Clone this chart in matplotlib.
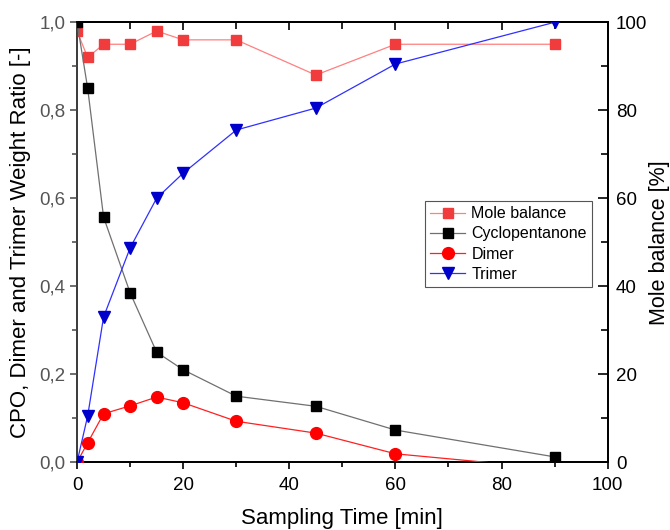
import numpy as np
import matplotlib
matplotlib.use('Agg')
import matplotlib.pyplot as plt
import matplotlib.ticker as ticker

plt.rcParams['font.family'] = ['Liberation Sans', 'DejaVu Sans']

# Sampling times [min]
time_min = [0, 2, 5, 10, 15, 20, 30, 45, 60, 90]

# Weight ratios [-]
cpo = [1.0, 0.85, 0.557, 0.385, 0.25, 0.21, 0.15, 0.127, 0.073, 0.012]
dimer = [0.0, 0.044, 0.11, 0.128, 0.148, 0.135, 0.093, 0.066, 0.019, -0.015]
trimer = [0.0, 0.105, 0.33, 0.487, 0.6, 0.657, 0.755, 0.805, 0.905, 1.0]

# Mole balance [%]
mole_balance = [98, 92, 95, 95, 98, 96, 96, 88, 95, 95]

fig = plt.figure(figsize=(6.7, 5.3), dpi=100)
ax1 = fig.add_axes([0.115, 0.128, 0.792, 0.830])
ax2 = ax1.twinx()

l_cpo, = ax1.plot(time_min, cpo, color='#707070', lw=0.9, marker='s', ms=7.5,
                  mfc='black', mec='black', label='Cyclopentanone', zorder=3)
l_dim, = ax1.plot(time_min, dimer, color='#ff2020', lw=0.9, marker='o', ms=8.5,
                  mfc='#ff0000', mec='#ff0000', label='Dimer', zorder=3)
l_tri, = ax1.plot(time_min, trimer, color='#3030ff', lw=0.9, marker='v', ms=8.5,
                  mfc='#0000cc', mec='#0000cc', label='Trimer', zorder=3)
l_mb, = ax2.plot(time_min, mole_balance, color='#ff8080', lw=0.9, marker='s', ms=7.5,
                 mfc='#f03c3c', mec='#f03c3c', label='Mole balance', zorder=3)

ax1.set_xlim(0, 100)
ax1.set_ylim(0, 1.0)
ax2.set_ylim(0, 100)

ax1.xaxis.set_major_locator(ticker.MultipleLocator(20))
ax1.xaxis.set_minor_locator(ticker.MultipleLocator(10))
ax1.yaxis.set_major_locator(ticker.MultipleLocator(0.2))
ax1.yaxis.set_minor_locator(ticker.MultipleLocator(0.1))
ax1.yaxis.set_major_formatter(ticker.FuncFormatter(lambda v, p: ('%.1f' % v).replace('.', ',')))
ax2.yaxis.set_major_locator(ticker.MultipleLocator(20))
ax2.yaxis.set_minor_locator(ticker.MultipleLocator(10))

ax1.tick_params(axis='x', which='both', direction='out', labelsize=13.5, width=1.2, pad=6)
ax1.tick_params(axis='x', which='major', length=5)
ax1.tick_params(axis='x', which='minor', length=3.5)
ax1.tick_params(axis='y', which='both', direction='out', labelsize=13.5, labelcolor='#555555',
                width=1.2, color='#555555')
ax1.tick_params(axis='y', which='major', length=5)
ax1.tick_params(axis='y', which='minor', length=3.5)
ax2.tick_params(axis='y', which='both', direction='in', labelsize=13.5, width=1.2, pad=6)
ax2.tick_params(axis='y', which='major', length=7)
ax2.tick_params(axis='y', which='minor', length=5)

# top axis ticks pointing inward, no labels
top = ax1.secondary_xaxis('top')
top.xaxis.set_major_locator(ticker.MultipleLocator(20))
top.xaxis.set_minor_locator(ticker.MultipleLocator(10))
top.tick_params(which='both', direction='in', labeltop=False, width=1.2)
top.tick_params(which='major', length=6)
top.tick_params(which='minor', length=5)
top.spines['top'].set_linewidth(1.3)

for ax in (ax1, ax2):
    for s in ax.spines.values():
        s.set_linewidth(1.3)
ax1.spines['left'].set_color('#444444')

ax1.set_xlabel('Sampling Time [min]', fontsize=16, labelpad=10)
ax1.set_ylabel('CPO, Dimer and Trimer Weight Ratio [-]', fontsize=16, labelpad=6)
ax2.set_ylabel('Mole balance [%]', fontsize=15.5, labelpad=1)

leg = ax1.legend(handles=[l_mb, l_cpo, l_dim, l_tri], loc='upper left',
                 bbox_to_anchor=(0.656, 0.593), fontsize=11.5, fancybox=False,
                 edgecolor='#555555', framealpha=1, handlelength=2.2,
                 borderpad=0.3, labelspacing=0.33, handletextpad=0.4,
                 borderaxespad=0)
leg.get_frame().set_linewidth(0.8)
ax2.set_zorder(0)
ax1.set_zorder(1)
ax1.patch.set_visible(False)

fig.savefig('out.png', dpi=100)
